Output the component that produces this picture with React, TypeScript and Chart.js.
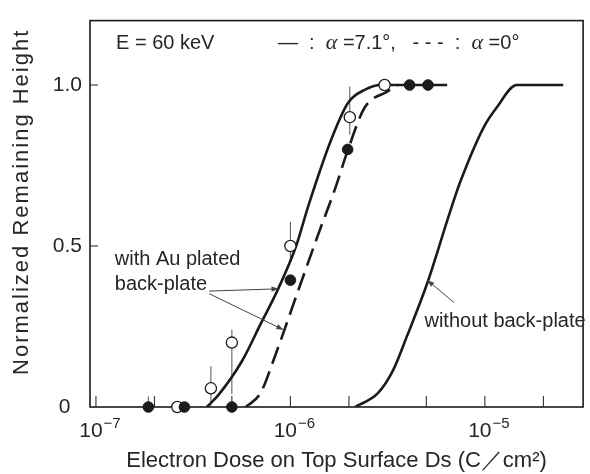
import React, { useEffect, useRef } from 'react';
import { Chart, registerables } from 'chart.js';

Chart.register(...registerables);

const FONT = "'Liberation Sans', Arial, Helvetica, sans-serif";
const INK = '#1b1b1b';
const TEXT = '#262626';

// ---- axis ticks ----
const xTickValues = [1e-7, 2e-7, 5e-7, 1e-6, 2e-6, 5e-6, 1e-5, 2e-5];
const xTickBase = ['10', '', '', '10', '', '', '10', ''];
const xTickExp = ['−7', '', '', '−6', '', '', '−5', ''];
const yTickValues = [0, 0.5, 1.0];
const yTickLabels = ['0\u2007', '0.5', '1.0'];

// ---- curves ----
// alpha = 7.1 deg (solid), with Au plated back-plate
const solidDose = [3.72e-7, 4.3e-7, 5.63e-7, 7.03e-7, 8.7e-7, 1.07e-6, 1.24e-6, 1.62e-6, 1.98e-6, 2.41e-6, 2.91e-6, 6.4e-6];
const solidHeight = [0, 0.04, 0.142, 0.258, 0.37, 0.5, 0.627, 0.83, 0.945, 0.985, 1.0, 1.0];
// alpha = 0 deg (dashed), with Au plated back-plate
const dashedDose = [5.9e-7, 7.0e-7, 8.4e-7, 1.1e-6, 1.39e-6, 1.7e-6, 1.98e-6, 2.41e-6, 3.16e-6, 3.56e-6];
const dashedHeight = [0, 0.042, 0.164, 0.364, 0.536, 0.679, 0.8, 0.93, 0.98, 1.0];
// without back-plate
const bareDose = [2.15e-6, 2.81e-6, 3.36e-6, 4.0e-6, 5.06e-6, 6.62e-6, 7.45e-6, 9.89e-6, 1.15e-5, 1.46e-5, 2.53e-5];
const bareHeight = [0, 0.042, 0.112, 0.224, 0.385, 0.606, 0.697, 0.87, 0.93, 1.0, 1.0];

// ---- measured points ----
const filledDose = [1.86e-7, 2.85e-7, 5.0e-7, 1.0e-6, 1.97e-6, 4.1e-6, 5.1e-6];
const filledHeight = [0, 0, 0, 0.394, 0.8, 1.0, 1.0];
const filledErrLow = [0, null, null, null, null, null, null];
const filledErrHigh = [0.033, null, null, null, null, null, null];

const openDose = [2.62e-7, 3.9e-7, 5.0e-7, 1.0e-6, 2.02e-6, 3.05e-6];
const openHeight = [0, 0.058, 0.2, 0.5, 0.9, 1.0];
const openErrLow = [null, 0.0, 0.04, 0.46, 0.845, null];
const openErrHigh = [null, 0.127, 0.24, 0.575, 0.995, null];

// ---- annotation anchors (data space) ----
const auLabelAt = { x: 1.25e-7, y1: 0.442, y2: 0.364 };
const auArrows = [
  { from: { x: 3.82e-7, y: 0.36 }, to: { x: 8.69e-7, y: 0.367 } },
  { from: { x: 3.82e-7, y: 0.352 }, to: { x: 9.2e-7, y: 0.24 } },
];
const bareLabelAt = { x: 4.89e-6, y: 0.248 };
const bareArrow = { from: { x: 6.95e-6, y: 0.324 }, to: { x: 5.06e-6, y: 0.394 } };

const toPts = (xs: number[], ys: number[]) => xs.map((x, i) => ({ x, y: ys[i] }));

function arrow(ctx: CanvasRenderingContext2D, x1: number, y1: number, x2: number, y2: number) {
  ctx.save();
  ctx.strokeStyle = '#444';
  ctx.fillStyle = '#444';
  ctx.lineWidth = 1;
  ctx.beginPath();
  ctx.moveTo(x1, y1);
  ctx.lineTo(x2, y2);
  ctx.stroke();
  const a = Math.atan2(y2 - y1, x2 - x1);
  const L = 7, W = 2.6;
  ctx.beginPath();
  ctx.moveTo(x2, y2);
  ctx.lineTo(x2 - L * Math.cos(a) + W * Math.sin(a), y2 - L * Math.sin(a) - W * Math.cos(a));
  ctx.lineTo(x2 - L * Math.cos(a) - W * Math.sin(a), y2 - L * Math.sin(a) + W * Math.cos(a));
  ctx.closePath();
  ctx.fill();
  ctx.restore();
}

const decor = {
  id: 'paperDecor',
  beforeDraw(chart: any) {
    const { ctx, width, height } = chart;
    ctx.save();
    ctx.fillStyle = '#ffffff';
    ctx.fillRect(0, 0, width, height);
    ctx.restore();
  },
  beforeDatasetsDraw(chart: any) {
    const { ctx, chartArea: ca, scales } = chart;
    const xs = scales.x, ys = scales.y;
    ctx.save();
    // frame
    ctx.strokeStyle = INK;
    ctx.lineWidth = 1.6;
    ctx.strokeRect(ca.left, ca.top, ca.right - ca.left, ca.bottom - ca.top);
    // inward ticks
    ctx.lineWidth = 1.1;
    ctx.strokeStyle = '#333';
    xs.ticks.forEach((t: any) => {
      const px = xs.getPixelForValue(t.value);
      ctx.beginPath();
      ctx.moveTo(px, ca.bottom);
      ctx.lineTo(px, ca.bottom - 11);
      ctx.stroke();
    });
    ys.ticks.forEach((t: any) => {
      if (t.value === 0) return;
      const py = ys.getPixelForValue(t.value);
      ctx.beginPath();
      ctx.moveTo(ca.left, py);
      ctx.lineTo(ca.left + 8, py);
      ctx.stroke();
    });
    // error bars
    ctx.strokeStyle = '#555';
    ctx.lineWidth = 1;
    const bars = (xv: number[], lo: (number | null)[], hi: (number | null)[]) => {
      xv.forEach((x, i) => {
        if (lo[i] == null || hi[i] == null) return;
        const px = xs.getPixelForValue(x);
        ctx.beginPath();
        ctx.moveTo(px, ys.getPixelForValue(lo[i] as number));
        ctx.lineTo(px, ys.getPixelForValue(hi[i] as number));
        ctx.stroke();
      });
    };
    bars(openDose, openErrLow, openErrHigh);
    bars(filledDose, filledErrLow, filledErrHigh);
    ctx.restore();
  },
  afterDatasetsDraw(chart: any) {
    const { ctx, chartArea: ca, scales } = chart;
    const xs = scales.x, ys = scales.y;
    const P = (p: { x: number; y: number }) => [xs.getPixelForValue(p.x), ys.getPixelForValue(p.y)];
    ctx.save();
    ctx.fillStyle = TEXT;
    ctx.textBaseline = 'alphabetic';
    ctx.textAlign = 'left';
    ctx.font = `20px ${FONT}`;
    // annotations
    ctx.fillText('with Au plated', xs.getPixelForValue(auLabelAt.x), ys.getPixelForValue(auLabelAt.y1));
    ctx.fillText('back-plate', xs.getPixelForValue(auLabelAt.x), ys.getPixelForValue(auLabelAt.y2));
    auArrows.forEach((a) => {
      const [x1, y1] = P(a.from);
      const [x2, y2] = P(a.to);
      arrow(ctx, x1, y1, x2, y2);
    });
    ctx.fillText('without back-plate', xs.getPixelForValue(bareLabelAt.x), ys.getPixelForValue(bareLabelAt.y));
    {
      const [x1, y1] = P(bareArrow.from);
      const [x2, y2] = P(bareArrow.to);
      arrow(ctx, x1, y1, x2, y2);
    }
    // header legend
    const by = ca.top + 28;
    ctx.fillText('E = 60 keV', ca.left + 26, by);
    const segs: [string, boolean][] = [
      ['—  :  ', false],
      ['α', true],
      [' =7.1°,   ', false],
      ['- - -  :  ', false],
      ['α', true],
      [' =0°', false],
    ];
    let x = ca.left + 188;
    segs.forEach(([s, it]) => {
      ctx.font = it ? `italic 22px 'Liberation Serif', 'DejaVu Serif', serif` : `20px ${FONT}`;
      ctx.fillText(s, x, by);
      x += ctx.measureText(s).width;
    });
    // x tick labels: 10 with raised exponent
    xs.ticks.forEach((t: any, i: number) => {
      if (!xTickBase[i]) return;
      const px = xs.getPixelForValue(t.value);
      ctx.font = `21px ${FONT}`;
      const wb = ctx.measureText(xTickBase[i]).width;
      ctx.font = `15px ${FONT}`;
      const we = ctx.measureText(xTickExp[i]).width;
      const x0 = px + 4 - (wb + we + 1) / 2;
      ctx.font = `21px ${FONT}`;
      ctx.fillText(xTickBase[i], x0, ca.bottom + 30);
      ctx.font = `15px ${FONT}`;
      ctx.fillText(xTickExp[i], x0 + wb + 1, ca.bottom + 21);
    });
    // y axis title
    ctx.save();
    ctx.translate(22, (ca.top + ca.bottom) / 2 - 12);
    ctx.rotate(-Math.PI / 2);
    ctx.font = `22px ${FONT}`;
    (ctx as any).letterSpacing = '2px';
    ctx.textAlign = 'center';
    ctx.textBaseline = 'middle';
    ctx.fillText('Normalized Remaining Height', 0, 0);
    ctx.restore();
    ctx.restore();
  },
};

export default function App() {
  const ref = useRef<HTMLCanvasElement | null>(null);
  useEffect(() => {
    if (!ref.current) return;
    const lineDs = (label: string, xs: number[], ys: number[], dash: number[]) => ({
      type: 'scatter' as const,
      label,
      data: toPts(xs, ys),
      showLine: true,
      borderColor: INK,
      borderWidth: 2.6,
      borderDash: dash,
      pointRadius: 0,
      cubicInterpolationMode: 'monotone' as const,
      fill: false,
      order: 2,
    });
    const chart = new Chart(ref.current, {
      type: 'scatter',
      data: {
        datasets: [
          {
            label: 'measured (filled)',
            data: toPts(filledDose, filledHeight),
            pointRadius: 5.3,
            pointBackgroundColor: INK,
            pointBorderColor: INK,
            pointBorderWidth: 1,
            showLine: false,
            clip: false,
            order: 0,
          } as any,
          {
            label: 'measured (open)',
            data: toPts(openDose, openHeight),
            pointRadius: 5.6,
            pointBackgroundColor: '#ffffff',
            pointBorderColor: INK,
            pointBorderWidth: 1.3,
            showLine: false,
            clip: false,
            order: 1,
          } as any,
          lineDs('α = 7.1°', solidDose, solidHeight, []),
          lineDs('α = 0°', dashedDose, dashedHeight, [18, 8]),
          lineDs('without back-plate', bareDose, bareHeight, []),
        ],
      },
      options: {
        responsive: false,
        devicePixelRatio: 1,
        animation: false,
        events: [],
        layout: { padding: { top: 11, right: 3, left: 0, bottom: 0 } },
        plugins: { legend: { display: false }, tooltip: { enabled: false } },
        scales: {
          x: {
            type: 'logarithmic',
            min: 9.32e-8,
            max: 3.2e-5,
            afterBuildTicks: (s: any) => {
              s.ticks = xTickValues.map((v) => ({ value: v }));
            },
            afterFit: (s: any) => {
              s.height = 67;
            },
            ticks: { display: false, autoSkip: false, maxRotation: 0 },
            grid: { display: false, drawTicks: false },
            border: { display: false },
            title: {
              display: true,
              text: 'Electron Dose on Top Surface Ds (C／cm²)',
              color: TEXT,
              font: { size: 22, family: FONT },
              padding: { top: 0, bottom: 0 },
            },
          },
          y: {
            type: 'linear',
            min: 0,
            max: 1.2,
            afterBuildTicks: (s: any) => {
              s.ticks = yTickValues.map((v) => ({ value: v }));
            },
            afterFit: (s: any) => {
              s.width = 90;
            },
            ticks: {
              padding: 8,
              color: TEXT,
              font: { size: 21, family: FONT },
              callback: (_v: any, i: number) => yTickLabels[i] ?? '',
            },
            grid: { display: false, drawTicks: false },
            border: { display: false },
            title: { display: false },
          },
        },
      } as any,
      plugins: [decor],
    });
    return () => chart.destroy();
  }, []);
  return (
    <div style={{ position: 'absolute', left: 0, top: 0, width: 590, height: 474 }}>
      <canvas ref={ref} width={590} height={474} style={{ display: 'block' }} />
    </div>
  );
}
